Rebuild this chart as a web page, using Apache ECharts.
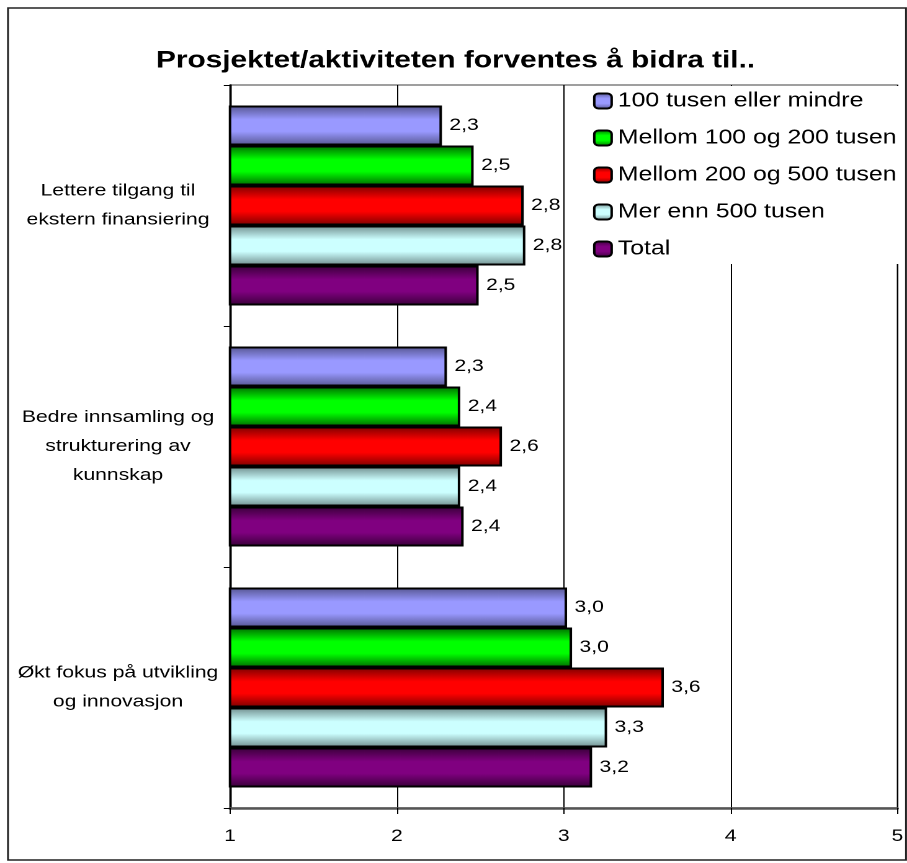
<!DOCTYPE html>
<html>
<head>
<meta charset="utf-8">
<script src="https://cdn.jsdelivr.net/npm/echarts@6/dist/echarts.min.js"></script>
<style>
  html, body { margin: 0; padding: 0; background: #fff; }
  #wrap { width: 907px; height: 863px; overflow: hidden; }
  /* the chart is laid out narrower and widened horizontally, giving the broad lettering */
  #chart { width: 731px; height: 863px; transform: scaleX(1.2408); transform-origin: 0 0; }
</style>
</head>
<body>
<div id="wrap"><div id="chart"></div></div>
<script>
// Categories (top to bottom) and one value array per respondent group
const categories = [
  'Lettere tilgang til\nekstern finansiering',
  'Bedre innsamling og\nstrukturering av\nkunnskap',
  'Økt fokus på utvikling\nog innovasjon'
];
const seriesNames = [
  '100 tusen eller mindre',
  'Mellom 100 og 200 tusen',
  'Mellom 200 og 500 tusen',
  'Mer enn 500 tusen',
  'Total'
];
const under100 = [2.27, 2.30, 3.02];
const from100to200 = [2.46, 2.38, 3.05];
const from200to500 = [2.76, 2.63, 3.60];
const over500 = [2.77, 2.38, 3.26];
const total = [2.49, 2.40, 3.17];
const xTicks = [1, 2, 3, 4, 5];

// horizontal stretch applied to the chart element
const K = 907 / 731;
const px = v => v / K;

// Edge / centre colours for the shaded bars
const palettes = [
  ['#55558f', '#9999ff'],
  ['#006a00', '#00ff00'],
  ['#7a0000', '#ff0000'],
  ['#6f8c8c', '#ccffff'],
  ['#380038', '#800080']
];
const seriesData = [under100, from100to200, from200to500, over500, total];

function shade(edge, mid) {
  return new echarts.graphic.LinearGradient(0, 0, 0, 1, [
    { offset: 0, color: edge },
    { offset: 0.35, color: mid },
    { offset: 0.65, color: mid },
    { offset: 1, color: edge }
  ]);
}

const font = '"Liberation Sans", Arial, sans-serif';

const chart = echarts.init(document.getElementById('chart'), null, {
  renderer: 'canvas',
  devicePixelRatio: 2
});

chart.setOption({
  animation: false,
  backgroundColor: '#fff',
  textStyle: { fontFamily: font, color: '#000' },
  title: {
    text: 'Prosjektet/aktiviteten forventes å bidra til..',
    left: px(156),
    top: 49,
    padding: 0,
    textStyle: { fontFamily: font, fontSize: 24, fontWeight: 'bold', color: '#000' }
  },
  legend: {
    data: seriesNames,
    orient: 'vertical',
    left: px(568),
    top: 86,
    padding: [5, 12, 5, px(593) - px(568)],
    backgroundColor: '#fff',
    itemWidth: 14,
    itemHeight: 15,
    itemGap: 17,
    z: 10,
    textStyle: { fontFamily: font, fontSize: 20, color: '#000' }
  },
  graphic: [{
    type: 'rect',
    shape: { x: px(8), y: 8, width: px(898), height: 852 },
    style: { fill: 'none', stroke: '#222', lineWidth: 1.5 },
    z: 100
  }],
  grid: {
    left: px(230),
    right: px(5),
    top: 85,
    bottom: 55,
    show: true,
    borderColor: '#808080',
    borderWidth: 1.5,
    backgroundColor: 'transparent'
  },
  xAxis: {
    type: 'value',
    min: xTicks[0],
    max: xTicks[xTicks.length - 1],
    interval: 1,
    axisLine: { show: true, lineStyle: { color: '#555', width: 2.5 } },
    axisTick: { show: true, length: 6, lineStyle: { color: '#000', width: 1 } },
    splitLine: { show: true, lineStyle: { color: '#000', width: 1 } },
    axisLabel: { fontFamily: font, fontSize: 17, color: '#000', margin: 20 }
  },
  yAxis: {
    type: 'category',
    data: categories,
    inverse: true,
    axisLine: { show: true, lineStyle: { color: '#000', width: 1.5 } },
    axisTick: { show: true, length: 5, lineStyle: { color: '#000' } },
    splitLine: { show: false },
    axisLabel: {
      fontFamily: font,
      fontSize: 17,
      color: '#000',
      align: 'center',
      margin: px(230) - px(118),
      lineHeight: 29
    }
  },
  series: seriesNames.map((name, i) => ({
    name: name,
    type: 'bar',
    data: seriesData[i],
    barCategoryGap: '17%',
    barGap: '0%',
    itemStyle: {
      color: shade(palettes[i][0], palettes[i][1]),
      borderColor: '#000',
      borderWidth: 2
    },
    label: {
      show: true,
      position: 'right',
      distance: 6,
      fontFamily: font,
      fontSize: 17,
      color: '#000',
      formatter: p => p.value.toFixed(1).replace('.', ',')
    }
  }))
});
</script>
</body>
</html>
